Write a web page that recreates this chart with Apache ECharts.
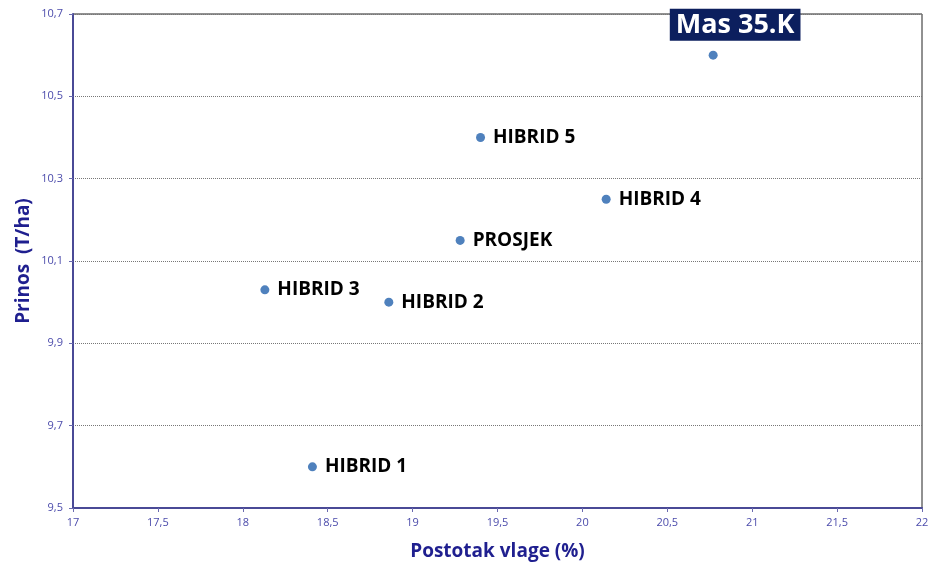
<!DOCTYPE html>
<html>
<head>
<meta charset="utf-8">
<script src="https://cdn.jsdelivr.net/npm/echarts@6/dist/echarts.min.js"></script>
<style>
  html, body { margin: 0; padding: 0; background: #fff; }
  #main { width: 935px; height: 563px; }
</style>
</head>
<body>
<div id="main"></div>
<script>
// podaci: hibridi, vlaga (%) i prinos (T/ha)
var names = ['Mas 35.K', 'HIBRID 5', 'HIBRID 4', 'PROSJEK', 'HIBRID 3', 'HIBRID 2', 'HIBRID 1'];
var vlaga = [20.77, 19.40, 20.14, 19.28, 18.13, 18.86, 18.41];
var prinos = [10.60, 10.40, 10.25, 10.15, 10.03, 10.00, 9.60];

var myChart = echarts.init(document.getElementById('main'));

var points = names.map(function (n, i) {
    var p = { name: n, value: [vlaga[i], prinos[i]] };
    if (i === 0) {
        p.label = {
            position: 'top',
            offset: [22, -2],
            color: '#fff',
            fontSize: 27,
            backgroundColor: '#0c1f5e',
            padding: [3, 6, 2, 6]
        };
    }
    return p;
});

function zarez(v) { return String(v).replace('.', ','); }

var option = {
    animation: false,
    grid: {
        left: 73, right: 13, top: 14, bottom: 55,
        outerBoundsMode: 'none',
        containLabel: false,
        show: true, borderColor: '#222', borderWidth: 1
    },
    xAxis: {
        type: 'value',
        min: 17, max: 22, interval: 0.5,
        name: 'Postotak vlage (%)',
        nameLocation: 'middle',
        nameGap: 34,
        nameMoveOverlap: false,
        nameTextStyle: { color: '#1f1f8f', fontSize: 19, fontWeight: 'bold', fontFamily: 'Open Sans' },
        axisLine: { lineStyle: { color: '#4a4a96', width: 2 } },
        axisTick: { show: true, length: 4, lineStyle: { color: '#6a6ab0' } },
        axisLabel: { color: '#4b4bab', fontSize: 11, margin: 9, formatter: zarez, fontFamily: 'Open Sans' },
        splitLine: { show: false }
    },
    yAxis: {
        type: 'value',
        min: 9.5, max: 10.7, interval: 0.2,
        name: 'Prinos  (T/ha)',
        nameLocation: 'middle',
        nameGap: 40,
        nameMoveOverlap: false,
        nameTextStyle: { color: '#1f1f8f', fontSize: 19, fontWeight: 'bold', fontFamily: 'Open Sans' },
        axisLine: { show: true, lineStyle: { color: '#4a4a96', width: 2 } },
        axisTick: { show: true, length: 4, lineStyle: { color: '#6a6ab0' } },
        axisLabel: {
            color: '#4b4bab', fontSize: 11, margin: 10, fontFamily: 'Open Sans',
            formatter: function (v) { return zarez(Math.round(v * 10) / 10); }
        },
        splitLine: { show: true, lineStyle: { color: '#777', type: [1, 1], width: 1 } }
    },
    series: [{
        type: 'scatter',
        symbolSize: 9,
        itemStyle: { color: '#4f81bd', opacity: 1 },
        label: {
            show: true,
            position: 'right',
            distance: 8,
            formatter: '{b}',
            color: '#000',
            opacity: 1,
            fontSize: 19,
            fontWeight: 'bold',
            fontFamily: 'Open Sans'
        },
        data: points
    }]
};

myChart.setOption(option);
</script>
</body>
</html>
